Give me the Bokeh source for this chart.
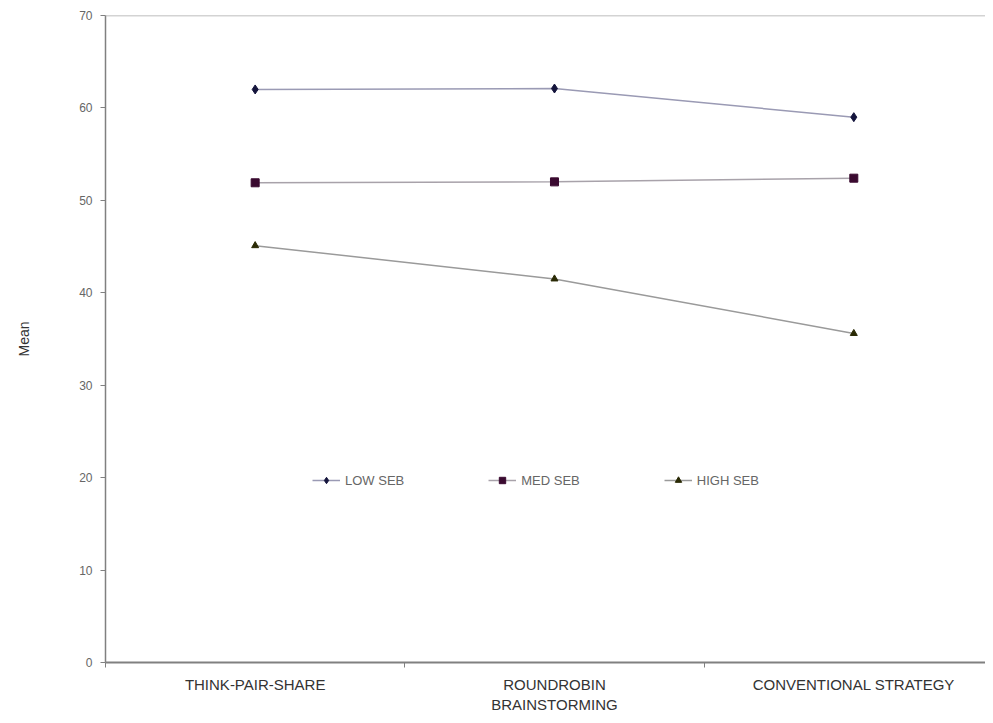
from bokeh.plotting import figure
from bokeh.models import FixedTicker, Range1d, Span, Legend, LegendItem
from bokeh.embed import file_html
from bokeh.resources import INLINE

categories = ["THINK-PAIR-SHARE", "ROUNDROBIN\nBRAINSTORMING", "CONVENTIONAL STRATEGY"]
low_seb = [62.0, 62.1, 59.0]
med_seb = [51.9, 52.0, 52.4]
high_seb = [45.1, 41.5, 35.6]
series_names = ["LOW SEB", "MED SEB", "HIGH SEB"]
y_ticks = [0, 10, 20, 30, 40, 50, 60, 70]

xs = [i + 0.5 for i in range(len(categories))]

p = figure(width=985, height=715, output_backend="svg", toolbar_location=None,
           x_range=Range1d(0, 2.94), y_range=Range1d(0, 70),
           min_border_left=105, min_border_right=0, min_border_top=15, min_border_bottom=53)
p.outline_line_color = None
p.xgrid.visible = False
p.ygrid.visible = False
p.background_fill_color = "white"
p.border_fill_color = "white"

p.add_layout(Span(location=70, dimension="width", line_color="#a8a8a8", line_width=1.5))

# y axis
p.yaxis.ticker = FixedTicker(ticks=y_ticks)
p.yaxis.axis_line_color = "#808080"
p.yaxis.axis_line_width = 1.5
p.yaxis.major_tick_line_color = "#808080"
p.yaxis.major_tick_out = 5
p.yaxis.major_tick_in = 0
p.yaxis.minor_tick_line_color = None
p.yaxis.major_label_text_font = "Liberation Sans"
p.yaxis.major_label_text_font_size = "12px"
p.yaxis.major_label_text_color = "#666666"
p.yaxis.major_label_standoff = 8
p.yaxis.axis_label = "Mean"
p.yaxis.axis_label_text_font = "Liberation Sans"
p.yaxis.axis_label_text_font_size = "14px"
p.yaxis.axis_label_text_font_style = "normal"
p.yaxis.axis_label_text_color = "#333333"
p.yaxis.axis_label_standoff = 44

# x axis
p.xaxis.ticker = FixedTicker(ticks=xs, minor_ticks=[0, 1, 2, 3])
p.xaxis.major_label_overrides = {x: c for x, c in zip(xs, categories)}
p.xaxis.axis_line_color = "#808080"
p.xaxis.axis_line_width = 2
p.xaxis.major_tick_line_color = None
p.xaxis.major_tick_out = 0
p.xaxis.minor_tick_line_color = "#808080"
p.xaxis.minor_tick_out = 5
p.xaxis.minor_tick_in = 0
p.xaxis.major_label_text_font = "Liberation Sans"
p.xaxis.major_label_text_font_size = "15px"
p.xaxis.major_label_text_color = "#333333"
p.xaxis.major_label_standoff = 8

line_colors = ["#9a9ab4", "#a8a2aa", "#9a9a9a"]
marker_colors = ["#14143c", "#3a0a30", "#2a2a05"]
markers = ["diamond", "square", "triangle"]
sizes = [9, 8, 7]
data = [low_seb, med_seb, high_seb]

items = []
for name, vals, lc, mc, mk, sz in zip(series_names, data, line_colors, marker_colors, markers, sizes):
    r1 = p.line(xs, vals, line_color=lc, line_width=1.5)
    r2 = p.scatter(xs, vals, marker=mk, size=sz, fill_color=mc, line_color=mc)
    items.append(LegendItem(label=name, renderers=[r1, r2]))

legend = Legend(items=items, orientation="horizontal", location=(207, 174),
                spacing=84, glyph_width=28, glyph_height=16, label_standoff=5,
                padding=0, margin=0, border_line_color=None, background_fill_alpha=0,
                label_text_font="Liberation Sans", label_text_font_size="13px",
                label_text_color="#666666")
p.add_layout(legend, "center")

open("out.html", "w").write(file_html(p, INLINE))
